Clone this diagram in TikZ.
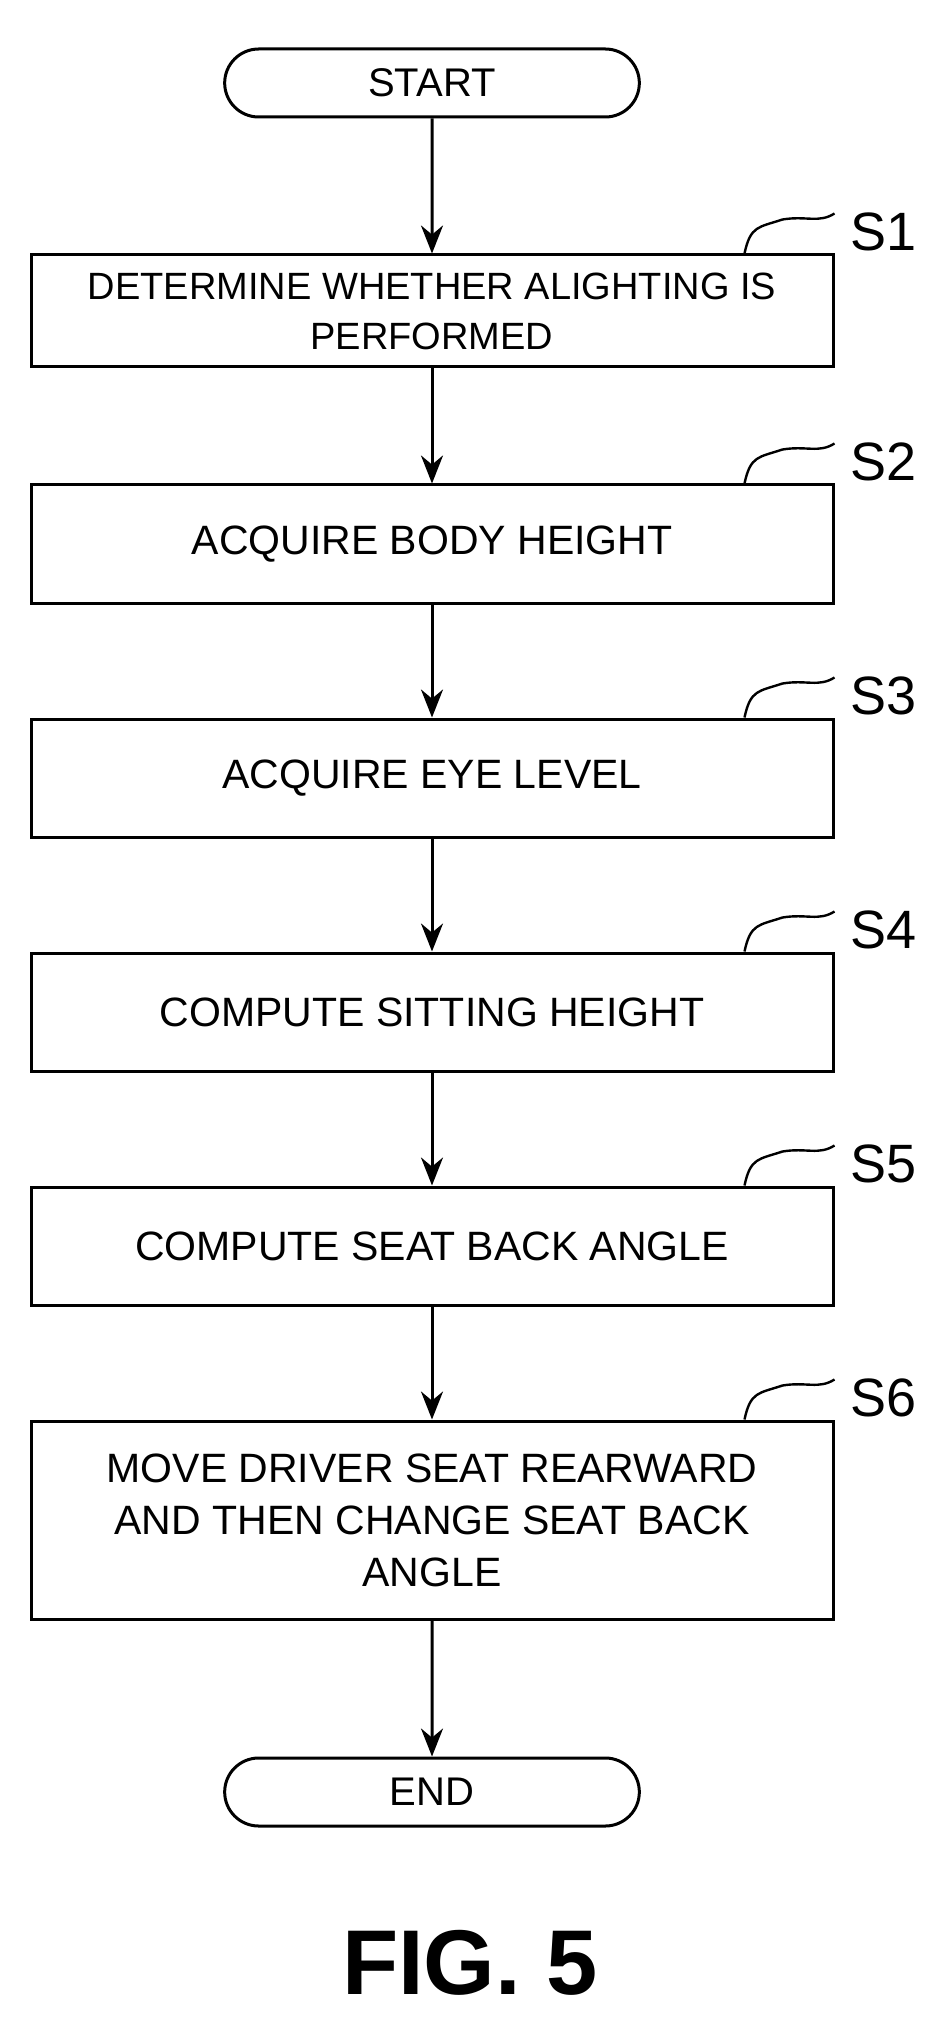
\documentclass[tikz,border=0pt]{standalone}
\usepackage{fontspec}
\setmainfont{Liberation Sans}
\usetikzlibrary{arrows.meta,shapes.misc}

\begin{document}
\begin{tikzpicture}[x=0.5pt,y=-0.5pt,line width=1.5pt,
	box/.style={draw,rectangle,minimum width=401pt,align=center,font=\fontsize{20.5}{26}\selectfont},
	term/.style={draw,rounded rectangle,minimum width=214pt,minimum height=34pt,font=\fontsize{20}{24}\selectfont},
	flow/.style={-{Stealth[length=14pt,width=11pt]}},
	tag/.style={font=\fontsize{27}{30}\selectfont,anchor=west}]
\useasboundingbox (0,0) rectangle (936,2027);

\node[term] (start) at (432,83) {START};
\node[box,minimum height=56pt,font=\fontsize{19}{25}\selectfont] (s1) at (432,311) {DETERMINE WHETHER ALIGHTING IS\\PERFORMED};
\node[box,minimum height=59pt] (s2) at (432,544) {ACQUIRE BODY HEIGHT};
\node[box,minimum height=59pt] (s3) at (432,778) {ACQUIRE EYE LEVEL};
\node[box,minimum height=59pt] (s4) at (432,1012) {COMPUTE SITTING HEIGHT};
\node[box,minimum height=59pt] (s5) at (432,1246) {COMPUTE SEAT BACK ANGLE};
\node[box,minimum height=99pt] (s6) at (432,1520) {MOVE DRIVER SEAT REARWARD\\AND THEN CHANGE SEAT BACK\\ANGLE};
\node[term] (end) at (432,1792) {END};

\node[font=\bfseries\fontsize{46}{52}\selectfont] (fig) at (470,1963) {FIG. 5};

% connectors
\foreach \a/\b in {start/s1,s1/s2,s2/s3,s3/s4,s4/s5,s5/s6,s6/end}
	\draw[flow] (\a) -- (\b);

% step labels
\foreach \s/\t in {s1/S1,s2/S2,s3/S3,s4/S4,s5/S5,s6/S6}{
	\coordinate (\s a) at ([xshift=-45pt]\s.north east);
	\coordinate (\s b) at ([shift={(0pt,20pt)}]\s.north east);
	\draw[line width=1.2pt] (\s a) .. controls +(3pt,14pt) and +(-12pt,-4pt) .. ([shift={(-26pt,17pt)}]\s.north east)
		.. controls +(12pt,2pt) and +(-8pt,-5pt) .. (\s b);
	\node[tag] (\s t) at ([shift={(4pt,11pt)}]\s.north east) {\t};
}
\end{tikzpicture}
\end{document}
